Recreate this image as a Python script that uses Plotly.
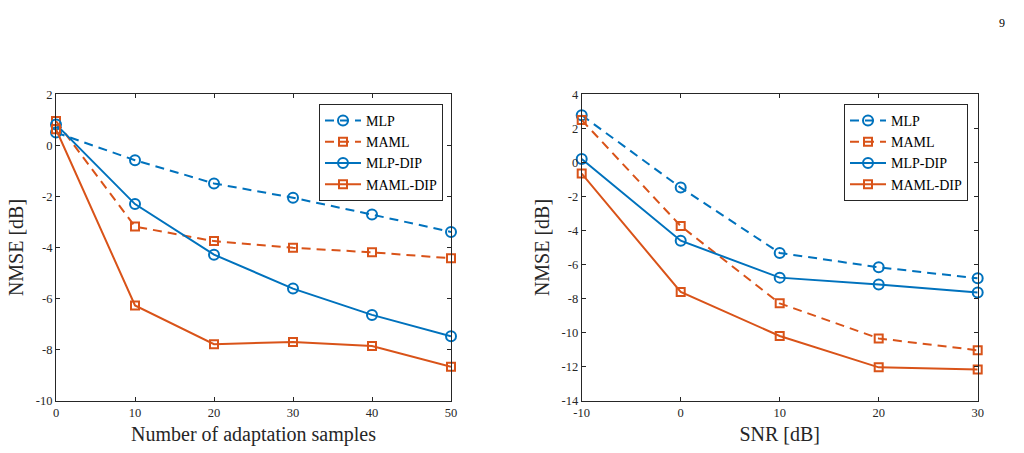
import plotly.graph_objects as go

# ---- data ----
samples = [0, 10, 20, 30, 40, 50]
mlp_s = [0.5, -0.58, -1.49, -2.05, -2.71, -3.39]
maml_s = [0.95, -3.18, -3.75, -4.01, -4.19, -4.42]
mlpdip_s = [0.82, -2.30, -4.28, -5.61, -6.64, -7.48]
mamldip_s = [0.63, -6.27, -7.79, -7.70, -7.86, -8.67]

snr = [-10, 0, 10, 20, 30]
mlp_n = [2.77, -1.48, -5.32, -6.16, -6.81]
maml_n = [2.49, -3.74, -8.28, -10.34, -11.04]
mlpdip_n = [0.20, -4.60, -6.77, -7.18, -7.65]
mamldip_n = [-0.66, -7.61, -10.20, -12.04, -12.16]

names = ["MLP", "MAML", "MLP-DIP", "MAML-DIP"]

BLUE = "#0072BD"
RED = "#D95319"
FONT = "Liberation Serif"
TXT = "#262626"

styles = [
    dict(color=BLUE, dash="9px,6px", symbol="circle-open", size=10),
    dict(color=RED, dash="9px,6px", symbol="square-open", size=8),
    dict(color=BLUE, dash="solid", symbol="circle-open", size=10),
    dict(color=RED, dash="solid", symbol="square-open", size=8),
]

fig = go.Figure()

left_sets = [mlp_s, maml_s, mlpdip_s, mamldip_s]
right_sets = [mlp_n, maml_n, mlpdip_n, mamldip_n]

for name, ys, st in zip(names, left_sets, styles):
    fig.add_trace(go.Scatter(
        x=samples, y=ys, name=name, mode="lines+markers",
        line=dict(color=st["color"], width=2, dash=st["dash"]),
        marker=dict(symbol=st["symbol"], size=st["size"], color=st["color"],
                    line=dict(width=2, color=st["color"])),
        xaxis="x", yaxis="y", legend="legend", cliponaxis=False,
    ))

for name, ys, st in zip(names, right_sets, styles):
    fig.add_trace(go.Scatter(
        x=snr, y=ys, name=name, mode="lines+markers",
        line=dict(color=st["color"], width=2, dash=st["dash"]),
        marker=dict(symbol=st["symbol"], size=st["size"], color=st["color"],
                    line=dict(width=2, color=st["color"])),
        xaxis="x2", yaxis="y2", legend="legend2", cliponaxis=False,
    ))

axis_common = dict(
    showline=True, linecolor=TXT, linewidth=1, mirror="ticks",
    ticks="inside", ticklen=4, tickcolor=TXT, tickwidth=1,
    showgrid=False, zeroline=False, automargin=False,
    tickfont=dict(family=FONT, size=12.5, color=TXT),
)

ydom = [1 - 400.7 / 453, 1 - 94.3 / 453]
TFONT = dict(family=FONT, size=20, color=TXT)
LFONT = dict(family=FONT, size=14, color="black")

fig.update_layout(
    width=1024, height=453,
    margin=dict(l=0, r=0, t=0, b=0),
    paper_bgcolor="white", plot_bgcolor="white",
    font=dict(family=FONT, color=TXT),
    xaxis=dict(domain=[56 / 1024, 451 / 1024], range=[0, 50], tickvals=samples,
               title=dict(text="Number of adaptation samples", font=TFONT, standoff=8),
               anchor="y", **axis_common),
    yaxis=dict(domain=ydom, range=[-10, 2], tickvals=[-10, -8, -6, -4, -2, 0, 2],
               ticktext=["-10", "-8", "-6", "-4", "-2", "0", "2"],
               title=dict(text="NMSE [dB]", font=TFONT, standoff=6),
               anchor="x", **axis_common),
    xaxis2=dict(domain=[581.7 / 1024, 977.7 / 1024], range=[-10, 30], tickvals=snr,
                ticktext=["-10", "0", "10", "20", "30"],
                title=dict(text="SNR [dB]", font=TFONT, standoff=8),
                anchor="y2", **axis_common),
    yaxis2=dict(domain=ydom, range=[-14, 4],
                tickvals=[-14, -12, -10, -8, -6, -4, -2, 0, 2, 4],
                ticktext=["-14", "-12", "-10", "-8", "-6", "-4", "-2", "0", "2", "4"],
                title=dict(text="NMSE [dB]", font=TFONT, standoff=6),
                anchor="x2", **axis_common),
    legend=dict(x=443 / 1024, xanchor="right", y=1 - 104 / 453, yanchor="top",
                bgcolor="white", bordercolor=TXT, borderwidth=1,
                font=LFONT, tracegroupgap=0, itemwidth=36),
    legend2=dict(x=968 / 1024, xanchor="right", y=1 - 104 / 453, yanchor="top",
                 bgcolor="white", bordercolor=TXT, borderwidth=1,
                 font=LFONT, tracegroupgap=0, itemwidth=36),
    annotations=[dict(text="9", x=1007 / 1024, y=1 - 14 / 453, xref="paper", yref="paper",
                      showarrow=False, font=dict(family=FONT, size=12, color="black"))],
)

fig.write_html("out.html")
